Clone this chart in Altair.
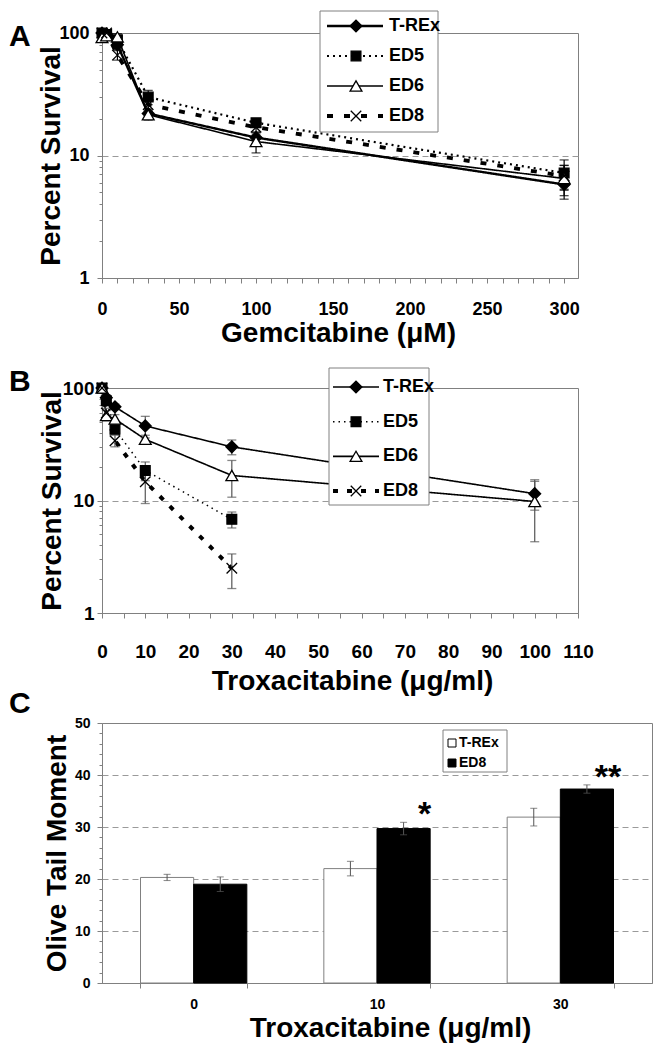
import altair as alt
import pandas as pd

SERIES = ["T-REx", "ED5", "ED6", "ED8"]

# ---------------- Panel A: Gemcitabine (uM) ----------------
gem_dose = [0, 3, 10, 30, 100, 300]
gem_trex = [100, 98, 80, 22, 14, 5.8]
gem_trex_err = [4, 4, 6, 2, 1.5, 1.4]
gem_ed5 = [100, 97, 88, 30, 18.5, 7.2]
gem_ed5_err = [4, 5, 6, 4, 1.5, 2.0]
gem_ed6 = [92, 95, 93, 21.5, 13, 6.5]
gem_ed6_err = [6, 5, 6, 2, 2.5, 1.8]
gem_ed8 = [100, 100, 66, 26, 17, 6.8]
gem_ed8_err = [5, 6, 6, 3, 2, 1.5]

# ---------------- Panel B: Troxacitabine (ug/ml) ----------------
trox_dose = [0, 1, 3, 10, 30, 100]
trox_trex = [100, 82, 68, 46, 30, 11.5]
trox_trex_err = [3, 5, 4, 10, 4.5, 3.3]
trox_ed5 = [100, 77, 43, 18.5, 6.8, None]
trox_ed5_err = [3, 5, 4, 3.5, 1.1, None]
trox_ed6 = [100, 57, 53, 35, 16.7, 9.8]
trox_ed6_err = [5, 6, 5, 3, 6, 5.5]
trox_ed8 = [100, 60, 34, 14.7, 2.5, None]
trox_ed8_err = [4, 6, 4, 5.3, 0.85, None]

# ---------------- Panel C: Olive tail moment ----------------
comet_dose = ["0", "10", "30"]
comet_trex = [20.3, 22.0, 31.9]
comet_trex_err = [0.6, 1.4, 1.7]
comet_ed8 = [19.0, 29.7, 37.3]
comet_ed8_err = [1.4, 1.2, 0.8]
comet_sig = ["", "*", "**"]

FT = "Liberation Sans, Arial, sans-serif"
FN = "Liberation Sans Narrow, Arial Narrow, Liberation Sans, sans-serif"
GREY = "#808080"
XPATH = "M-1,-1L1,1M-1,1L1,-1"
L = 101  # common left edge of plot areas


def long_df(dose, series_vals):
    rows = []
    for name, vals, errs in series_vals:
        for d, v, e in zip(dose, vals, errs):
            if v is None:
                continue
            rows.append({"series": name, "dose": d, "val": v,
                         "lo": v - e, "hi": v + e})
    return pd.DataFrame(rows)


dfA = long_df(gem_dose, [("T-REx", gem_trex, gem_trex_err),
                         ("ED5", gem_ed5, gem_ed5_err),
                         ("ED6", gem_ed6, gem_ed6_err),
                         ("ED8", gem_ed8, gem_ed8_err)])
dfB = long_df(trox_dose, [("T-REx", trox_trex, trox_trex_err),
                          ("ED5", trox_ed5, trox_ed5_err),
                          ("ED6", trox_ed6, trox_ed6_err),
                          ("ED8", trox_ed8, trox_ed8_err)])

shape_s = alt.Scale(domain=SERIES, range=["diamond", "square", "triangle-up", XPATH])
fill_s = alt.Scale(domain=SERIES, range=["black", "black", "white", "transparent"])
size_s = alt.Scale(type="ordinal", domain=SERIES, range=[140, 95, 140, 110])

LOGVALS = [1, 2, 3, 4, 5, 6, 7, 8, 9, 10, 20, 30, 40, 50, 60, 70, 80, 90, 100]
MAJ = "(datum.value == 1 || datum.value == 10 || datum.value == 100)"


def curve_panel(df, xmax, xstep, xlabstep, w, h, dashes, widths, err_color,
                tick_fs, xpad, ypad, xtitle, xtitle_x, xtitle_y, ytitle_x,
                letter, letter_y, leg, leg_fs):
    xvals = list(range(0, int(xmax) + 1, xstep))
    x = alt.X("dose:Q", scale=alt.Scale(domain=[0, xmax], nice=False, zero=False),
              axis=alt.Axis(values=xvals, tickCount=1000,
                            labelExpr=f"datum.value % {xlabstep} == 0 ? format(datum.value, 'd') : ''",
                            title=xtitle, titleFont=FT, titleFontSize=28, titleFontWeight="bold",
                            titleX=xtitle_x, titleY=xtitle_y, titleAlign="center",
                            titleBaseline="alphabetic", titleColor="black",
                            labelFont=FN, labelFontSize=tick_fs, labelFontWeight="bold",
                            labelColor="black", labelPadding=xpad, labelOverlap=False,
                            labelFlush=False, tickSize=5, tickColor=GREY, domainColor=GREY,
                            grid=False))
    ys = alt.Scale(type="log", domain=[1, 100], nice=False)
    yaxis = alt.Axis(values=LOGVALS, tickCount=1000,
                     labelExpr=f"{MAJ} ? format(datum.value, 'd') : ''",
                     title="Percent Survival", titleFont=FT, titleFontSize=28,
                     titleFontWeight="bold", titleColor="black",
                     titleX=ytitle_x, titleY=h / 2, titleAlign="center",
                     titleBaseline="middle", titleAngle=-90,
                     labelFont=FN, labelFontSize=tick_fs, labelFontWeight="bold",
                     labelColor="black", labelPadding=ypad, labelOverlap=False,
                     labelFlush=False,
                     tickSize={"condition": {"test": MAJ, "value": 5}, "value": 3},
                     tickColor=GREY, domainColor=GREY,
                     grid=True, gridColor="#9a9a9a", gridDash=[6, 4],
                     gridOpacity={"condition": {"test": "datum.value == 10", "value": 1}, "value": 0})
    dash = alt.StrokeDash("series:N", scale=alt.Scale(type="ordinal", domain=SERIES, range=dashes), legend=None)
    swid = alt.StrokeWidth("series:N", scale=alt.Scale(type="ordinal", domain=SERIES, range=widths), legend=None)
    shape = alt.Shape("series:N", scale=shape_s, legend=None)
    fill = alt.Fill("series:N", scale=fill_s, legend=None)
    size = alt.Size("series:N", scale=size_s, legend=None)

    base = alt.Chart(df)
    lines = base.mark_line(color="black").encode(
        x=x, y=alt.Y("val:Q", scale=ys, axis=yaxis), strokeDash=dash, strokeWidth=swid)
    rules = base.mark_rule(color=err_color, strokeWidth=1.2).encode(
        x="dose:Q", y="lo:Q", y2="hi:Q")
    cap_lo = base.mark_tick(color=err_color, orient="horizontal", size=9, thickness=1.3).encode(
        x="dose:Q", y="lo:Q")
    cap_hi = base.mark_tick(color=err_color, orient="horizontal", size=9, thickness=1.3).encode(
        x="dose:Q", y="hi:Q")
    pts = base.mark_point(filled=True, stroke="black", strokeWidth=1.3, opacity=1).encode(
        x="dose:Q", y="val:Q", shape=shape, fill=fill, size=size)
    main = alt.layer(lines, rules, cap_lo, cap_hi, pts)

    # legend
    ldf = pd.DataFrame({"series": SERIES})
    ly = alt.Y("series:N", scale=alt.Scale(type="point", domain=SERIES,
                                           range=leg["rows"], padding=0), axis=None)
    box = alt.Chart(pd.DataFrame({"k": [0]})).mark_rect(
        fill="white", stroke=GREY, strokeWidth=1).encode(
        x=alt.value(leg["box"][0]), x2=alt.value(leg["box"][1]),
        y=alt.value(leg["box"][2]), y2=alt.value(leg["box"][3]))
    llines = alt.Chart(ldf).mark_rule(color="black").encode(
        x=alt.value(leg["line"][0]), x2=alt.value(leg["line"][1]), y=ly,
        strokeDash=dash, strokeWidth=swid)
    lpts = alt.Chart(ldf).mark_point(filled=True, stroke="black", strokeWidth=1.3, opacity=1).encode(
        x=alt.value(leg["mark"]), y=ly, shape=shape, fill=fill, size=size)
    ltxt = alt.Chart(ldf).mark_text(align="left", baseline="middle", font=FN,
                                    fontSize=leg_fs, fontWeight="bold", color="black").encode(
        x=alt.value(leg["text"]), y=ly, text="series:N")
    let = alt.Chart(pd.DataFrame({"t": [letter]})).mark_text(
        align="left", baseline="alphabetic", font=FT, fontSize=30, fontWeight="bold",
        color="black").encode(x=alt.value(8 - L), y=alt.value(letter_y), text="t:N")
    legend = alt.layer(box, llines, lpts, ltxt, let)
    return alt.layer(main, legend).resolve_scale(y="independent").properties(width=w, height=h)


panelA = curve_panel(
    dfA, 309, 10, 50, 577 - L, 245,
    dashes=[[1, 0], [2, 4], [1, 0], [6, 11]], widths=[2.4, 2.2, 1.6, 3.8],
    err_color="black", tick_fs=18, xpad=17, ypad=8,
    xtitle="Gemcitabine (\u03bcM)", xtitle_x=236, xtitle_y=63, ytitle_x=50 - L,
    letter="A", letter_y=13,
    leg={"box": [319 - L, 437 - L, -22, 99], "rows": [-7, 83],
         "line": [326 - L, 382 - L], "mark": 355 - L, "text": 388 - L},
    leg_fs=18)

panelB = curve_panel(
    dfB, 110, 5, 10, 577 - L, 225,
    dashes=[[1, 0], [1.5, 4], [1, 0], [5, 9]], widths=[1.6, 1.5, 1.6, 4],
    err_color="#555555", tick_fs=19, xpad=24, ypad=3,
    xtitle="Troxacitabine (\u03bcg/ml)", xtitle_x=250, xtitle_y=76, ytitle_x=51 - L,
    letter="B", letter_y=3,
    leg={"box": [328 - L, 428 - L, -20, 117], "rows": [-1, 103],
         "line": [332 - L, 378 - L], "mark": 355 - L, "text": 382 - L},
    leg_fs=18)

# ---------------- Panel C ----------------
rowsC = []
for g, v, e in zip(comet_dose, comet_trex, comet_trex_err):
    rowsC.append({"group": g, "series": "T-REx", "val": v, "lo": v - e, "hi": v + e, "sig": ""})
for g, v, e, s in zip(comet_dose, comet_ed8, comet_ed8_err, comet_sig):
    rowsC.append({"group": g, "series": "ED8", "val": v, "lo": v - e, "hi": v + e, "sig": s})
dfC = pd.DataFrame(rowsC)
C_SER = ["T-REx", "ED8"]
hC = 260
CMAJ = "(datum.value % 10 == 0)"

xC = alt.X("group:N", sort=comet_dose,
           scale=alt.Scale(paddingInner=0.42, paddingOuter=0.21),
           axis=alt.Axis(title="Troxacitabine (\u03bcg/ml)", titleFont=FT, titleFontSize=28,
                         titleFontWeight="bold", titleColor="black", titleX=288, titleY=53,
                         titleAlign="center", titleBaseline="alphabetic",
                         labelFont=FT, labelFontSize=14, labelFontWeight="bold",
                         labelColor="black", labelAngle=0, labelPadding=9,
                         tickBand="extent", tickSize=5, tickColor=GREY, domainColor=GREY))
xoC = alt.XOffset("series:N", sort=C_SER, scale=alt.Scale(domain=C_SER, paddingInner=0, paddingOuter=0))
yC = alt.Y("val:Q", scale=alt.Scale(domain=[0, 50], nice=False),
           axis=alt.Axis(values=list(range(0, 51, 2)), tickCount=1000,
                         labelExpr=f"{CMAJ} ? format(datum.value, 'd') : ''",
                         title="Olive Tail Moment", titleFont=FT, titleFontSize=28,
                         titleFontWeight="bold", titleColor="black",
                         titleX=56 - L, titleY=hC / 2, titleAlign="center",
                         titleBaseline="middle", titleAngle=-90,
                         labelFont=FT, labelFontSize=14, labelFontWeight="bold",
                         labelColor="black", labelPadding=7, labelOverlap=False,
                         labelFlush=False,
                         tickSize={"condition": {"test": CMAJ, "value": 5}, "value": 3},
                         tickColor=GREY, domainColor=GREY,
                         grid=True, gridColor="#9a9a9a", gridDash=[6, 4],
                         gridOpacity={"condition": {"test": "datum.value % 10 == 0 && datum.value > 0 && datum.value < 50", "value": 1}, "value": 0}))
fillC = alt.Fill("series:N", scale=alt.Scale(domain=C_SER, range=["white", "black"]), legend=None)
strokeC = alt.Stroke("series:N", scale=alt.Scale(domain=C_SER, range=[GREY, "black"]), legend=None)

baseC = alt.Chart(dfC)
bars = baseC.mark_bar(strokeWidth=1).encode(x=xC, xOffset=xoC, y=yC, fill=fillC, stroke=strokeC)
errC = baseC.mark_rule(color="#555555", strokeWidth=1).encode(
    x="group:N", xOffset="series:N", y="lo:Q", y2="hi:Q")
capC1 = baseC.mark_tick(color="#555555", orient="horizontal", size=7, thickness=1).encode(
    x="group:N", xOffset="series:N", y="lo:Q")
capC2 = baseC.mark_tick(color="#555555", orient="horizontal", size=7, thickness=1).encode(
    x="group:N", xOffset="series:N", y="hi:Q")
stars = baseC.mark_text(font=FT, fontSize=34, fontWeight="bold", color="black",
                        baseline="alphabetic", dx=21, dy=3).encode(
    x="group:N", xOffset="series:N", y="hi:Q", text="sig:N")
mainC = alt.layer(bars, errC, capC1, capC2, stars)

ldfC = pd.DataFrame({"series": C_SER})
lyC = alt.Y("series:N", scale=alt.Scale(type="point", domain=C_SER, range=[20, 40], padding=0), axis=None)
boxC = alt.Chart(pd.DataFrame({"k": [0]})).mark_rect(fill="white", stroke=GREY, strokeWidth=1).encode(
    x=alt.value(442 - L), x2=alt.value(506 - L), y=alt.value(7), y2=alt.value(49))
lsymC = alt.Chart(ldfC).mark_point(shape="square", filled=True, size=64, strokeWidth=1, opacity=1,
                                   stroke="black").encode(
    x=alt.value(451 - L), y=lyC, fill=fillC)
ltxtC = alt.Chart(ldfC).mark_text(align="left", baseline="middle", font=FT, fontSize=14,
                                  fontWeight="bold", color="black").encode(
    x=alt.value(458 - L), y=lyC, text="series:N")
letC = alt.Chart(pd.DataFrame({"t": ["C"]})).mark_text(
    align="left", baseline="alphabetic", font=FT, fontSize=30, fontWeight="bold",
    color="black").encode(x=alt.value(8 - L), y=alt.value(-10), text="t:N")
legendC = alt.layer(boxC, lsymC, ltxtC, letC)
panelC = alt.layer(mainC, legendC).resolve_scale(y="independent").properties(width=651 - L, height=hC)

chart = alt.vconcat(panelA, panelB, panelC, spacing=110, bounds="flush").resolve_scale(
    fill="independent", stroke="independent", strokeDash="independent",
    strokeWidth="independent", shape="independent", size="independent").configure_view(
    stroke=GREY, strokeWidth=1).properties(
    padding={"left": 0, "top": 2, "right": 0, "bottom": 0}, background="white")

chart.save("out.html", embed_options={"renderer": "svg", "actions": False})
